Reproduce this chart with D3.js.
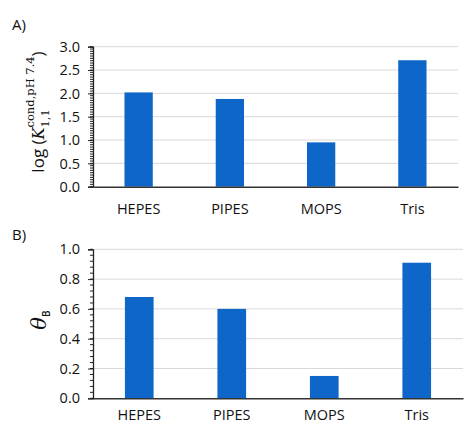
<!DOCTYPE html>
<html>
<head>
<meta charset="utf-8">
<script src="https://cdn.jsdelivr.net/npm/d3@7"></script>
<style>
  body { margin: 0; background: #fff; }
  svg { display: block; }
  .tick text { font-family: "Open Sans", sans-serif; font-size: 14.5px; fill: #111; }
</style>
</head>
<body>
<svg id="chart" width="464" height="425"></svg>
<script>
// buffer categories and the two measured series
const buffers = ["HEPES", "PIPES", "MOPS", "Tris"];
const logK = [2.02, 1.88, 0.95, 2.71];
const thetaB = [0.68, 0.60, 0.15, 0.91];
const logKTicks = [0, 0.5, 1.0, 1.5, 2.0, 2.5, 3.0];
const thetaTicks = [0, 0.2, 0.4, 0.6, 0.8, 1.0];

const barColor = "#0f66c9";
const svg = d3.select("#chart");

function drawPanel(opt) {
  const g = svg.append("g");
  const x = d3.scaleBand()
    .domain(buffers)
    .range([opt.left, opt.right])
    .paddingInner(0.69)
    .paddingOuter(0.345);
  const y = d3.scaleLinear()
    .domain([0, opt.max])
    .range([opt.bottom, opt.top]);

  // gridlines
  g.selectAll(".grid")
    .data(opt.ticks.filter(d => d > 0))
    .join("line")
    .attr("x1", opt.left)
    .attr("x2", opt.right)
    .attr("y1", d => y(d))
    .attr("y2", d => y(d))
    .attr("stroke", "#d9d9d9")
    .attr("stroke-width", 1);

  // bars
  g.selectAll(".bar")
    .data(opt.values)
    .join("rect")
    .attr("x", (d, i) => x(buffers[i]))
    .attr("width", x.bandwidth())
    .attr("y", d => y(d))
    .attr("height", d => opt.bottom - y(d))
    .attr("fill", barColor);

  // minor ticks on the y axis
  const minor = d3.range(0, opt.max + 1e-9, opt.minor);
  g.selectAll(".minor")
    .data(minor)
    .join("line")
    .attr("x1", opt.left - 3)
    .attr("x2", opt.left)
    .attr("y1", d => y(d))
    .attr("y2", d => y(d))
    .attr("stroke", "#222")
    .attr("stroke-width", 1);

  const yAxis = g.append("g")
    .attr("transform", `translate(${opt.left},0)`)
    .call(d3.axisLeft(y).tickValues(opt.ticks).tickFormat(d3.format(".1f")).tickSize(5).tickPadding(8));
  yAxis.select(".domain").attr("stroke", "#222").attr("stroke-width", 1.3);
  yAxis.selectAll(".tick line").attr("stroke", "#222");

  const xAxis = g.append("g")
    .attr("transform", `translate(0,${opt.bottom})`)
    .call(d3.axisBottom(x).tickSize(0).tickPadding(opt.xPad));
  xAxis.select(".domain").attr("stroke", "#333").attr("stroke-width", 1.6);

  // panel label
  svg.append("text")
    .attr("x", 12)
    .attr("y", opt.labelY)
    .attr("font-family", "Open Sans, sans-serif")
    .attr("font-size", 15)
    .attr("fill", "#111")
    .text(opt.label);

  return g;
}

drawPanel({ values: logK, ticks: logKTicks, max: 3, minor: 0.05, xPad: 17,
  left: 93, right: 458, top: 46.7, bottom: 186.7, label: "A)", labelY: 30 });
drawPanel({ values: thetaB, ticks: thetaTicks, max: 1, minor: 0.04, xPad: 11,
  left: 93, right: 463, top: 249.3, bottom: 398.3, label: "B)", labelY: 240 });

// y title, panel A
const tA = svg.append("text")
  .attr("transform", "translate(44,112) rotate(-90)")
  .attr("text-anchor", "middle")
  .attr("fill", "#111");
tA.append("tspan").attr("font-family", "Open Sans, sans-serif").attr("font-size", 17).text("log (");
tA.append("tspan").attr("font-family", "DejaVu Serif, serif").attr("font-style", "italic").attr("font-size", 16).text("K");
const sub = tA.append("tspan").attr("font-family", "DejaVu Serif, serif").attr("font-size", 11.5)
  .attr("dy", 5).text("1,1");
const subW = sub.node().getComputedTextLength();
tA.append("tspan").attr("font-family", "DejaVu Serif, serif").attr("font-size", 11.5)
  .attr("dx", -subW).attr("dy", -15).text("cond,pH 7.4");
tA.append("tspan").attr("font-family", "Open Sans, sans-serif").attr("font-size", 17)
  .attr("dy", 10).text(")");

// y title, panel B
const tB = svg.append("text")
  .attr("transform", "translate(46,320) rotate(-90)")
  .attr("text-anchor", "middle")
  .attr("fill", "#111");
tB.append("tspan").attr("font-family", "DejaVu Serif, serif").attr("font-style", "italic").attr("font-size", 21).text("θ");
tB.append("tspan").attr("font-family", "Open Sans, sans-serif").attr("font-weight", "600").attr("font-size", 10)
  .attr("dy", 4).text("B");
</script>
</body>
</html>
